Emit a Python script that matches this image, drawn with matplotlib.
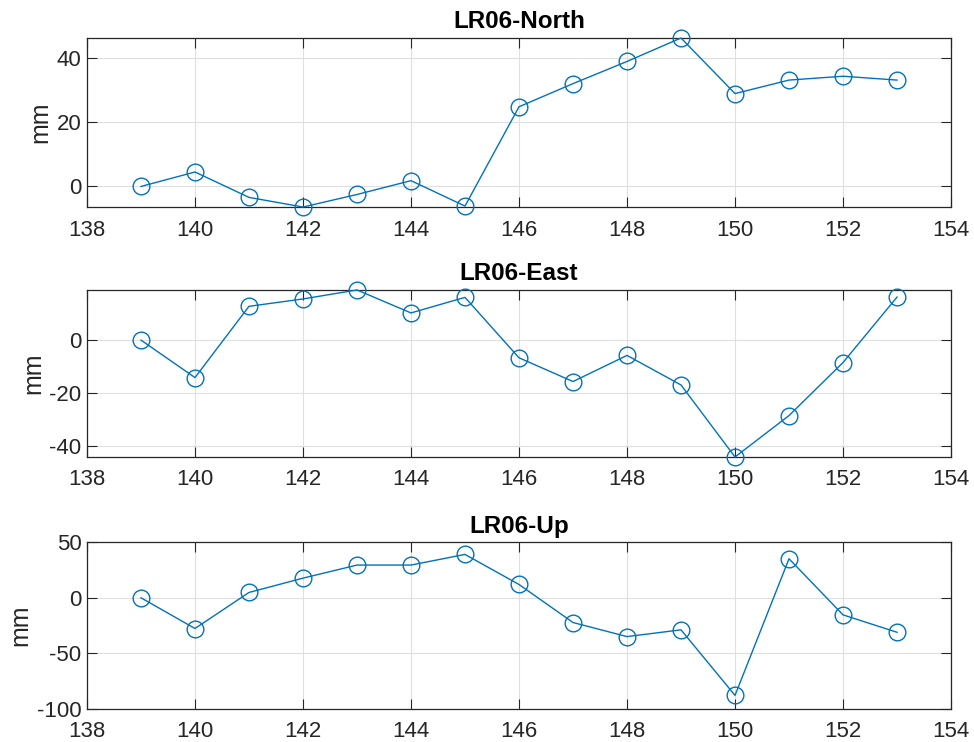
import matplotlib
matplotlib.use("Agg")
import matplotlib.pyplot as plt

plt.rcParams['font.family'] = ['Liberation Sans', 'DejaVu Sans']
plt.rcParams['axes.unicode_minus'] = False

epochs = [139, 140, 141, 142, 143, 144, 145, 146, 147, 148, 149, 150, 151, 152, 153]

north = [0.0, 4.5, -3.4, -6.4, -2.5, 1.8, -6.1, 24.8, 32.0, 38.9, 46.2, 28.9, 33.1, 34.3, 33.1]
east = [0.0, -14.2, 12.8, 15.6, 19.0, 10.3, 16.2, -6.7, -15.7, -5.8, -17.0, -44.3, -28.6, -8.5, 16.3]
up = [0.0, -27.7, 4.8, 17.7, 29.5, 29.5, 39.1, 12.0, -22.3, -35.0, -28.9, -88.0, 35.2, -15.4, -31.1]

titles = ['LR06-North', 'LR06-East', 'LR06-Up']
series = [north, east, up]
ylims = [(min(north), max(north)), (min(east), max(east)), (-100, 50)]
yticks = [[0, 20, 40], [-40, -20, 0], [-100, -50, 0, 50]]
xticks = [138, 140, 142, 144, 146, 148, 150, 152, 154]

# axes boxes in figure fractions: left, bottom, width, height
boxes = [
    (0.0893, 0.7210, 0.8871, 0.2278),
    (0.0893, 0.3841, 0.8871, 0.2251),
    (0.0893, 0.0449, 0.8871, 0.2242),
]

line_color = '#0072BD'
axis_color = '#262626'

fig = plt.figure(figsize=(9.74, 7.42), dpi=100)
for vals, title, ylim, yt, box in zip(series, titles, ylims, yticks, boxes):
    ax = fig.add_axes(box)
    ax.plot(epochs, vals, '-o', color=line_color, linewidth=1.0,
            markersize=12, markerfacecolor='none', markeredgewidth=1.0,
            clip_on=False, zorder=3)
    ax.set_xlim(138, 154)
    ax.set_ylim(*ylim)
    ax.set_xticks(xticks)
    ax.set_yticks(yt)
    ax.grid(True, color='#dfdfdf', linewidth=0.8)
    ax.set_axisbelow(True)
    ax.tick_params(direction='in', length=7, width=0.8, colors=axis_color,
                   labelsize=16, top=True, right=True)
    ax.tick_params(axis='x', pad=9)
    ax.tick_params(axis='y', pad=4)
    for s in ax.spines.values():
        s.set_color(axis_color)
        s.set_linewidth(0.9)
    ax.set_ylabel('mm', fontsize=18, color=axis_color, labelpad=3)
    ax.set_title(title, fontsize=17.5, fontweight='bold', color='black', pad=7)

fig.savefig('out.png', dpi=100)
